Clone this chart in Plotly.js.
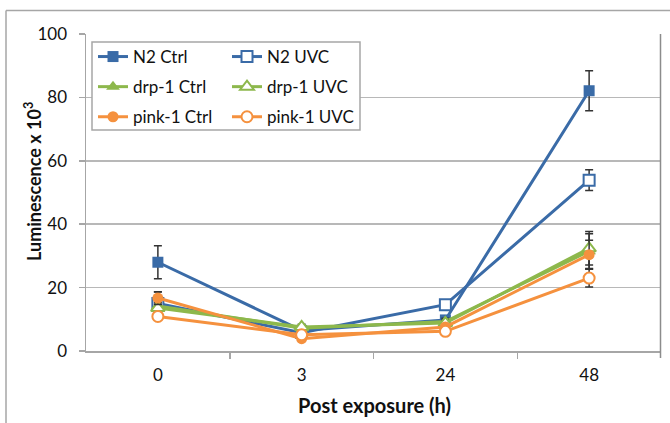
<!DOCTYPE html>
<html>
<head>
<meta charset="utf-8">
<script src="https://cdn.plot.ly/plotly-3.0.1.min.js"></script>
<style>
html,body{margin:0;padding:0;background:#fff;}
#chart{width:670px;height:423px;}
</style>
</head>
<body>
<div id="chart"></div>
<script>
// ---- data ----
var categories = ['0', '3', '24', '48'];
var seriesNames = ['N2 Ctrl', 'N2 UVC', 'drp-1 Ctrl', 'drp-1 UVC', 'pink-1 Ctrl', 'pink-1 UVC'];
var n2Ctrl = [28.0, 6.5, 9.8, 82.1];
var n2CtrlErr = [5.2, 0.8, 1.0, 6.3];
var n2Uvc = [15.0, 5.8, 14.6, 53.9];
var n2UvcErr = [3.6, 0.8, 1.2, 3.3];
var drpCtrl = [14.2, 7.2, 9.3, 31.5];
var drpCtrlErr = [1.2, 0.8, 1.0, 5.5];
var drpUvc = [13.6, 7.6, 8.8, 32.4];
var drpUvcErr = [1.2, 0.8, 1.0, 5.3];
var pinkCtrl = [16.7, 3.9, 7.6, 30.4];
var pinkCtrlErr = [2.0, 0.6, 0.8, 4.5];
var pinkUvc = [10.9, 5.1, 6.2, 23.0];
var pinkUvcErr = [1.0, 0.6, 0.8, 2.8];
var yTicks = [0, 20, 40, 60, 80, 100];

// ---- style ----
var BLUE = '#3A6BA7', GREEN = '#8DB84C', ORANGE = '#F5913E';
var FONT = 'Lato, "Open Sans", sans-serif';
var xIdx = categories.map(function (c, i) { return i; });

// plot area in pixels
var W = 670, H = 423, L = 86, R = 661, T = 34, B = 351;
function px(x) { return (x - L) / (R - L); }
function py(y) { return (B - y) / (B - T); }

function mk(name, y, err, color, symbol, open, legend) {
  return {
    type: 'scatter', mode: 'lines+markers', name: name,
    x: xIdx, y: y, legend: legend, legendgroup: name,
    line: {color: color, width: 3},
    marker: {symbol: symbol, size: symbol === 'triangle-up' ? 12 : 11,
      color: open ? '#ffffff' : color,
      line: {color: color, width: open ? 2 : 0}},
    error_y: {type: 'data', array: err, visible: true, color: '#333333', thickness: 1.5, width: 4},
    cliponaxis: false
  };
}

var data = [
  mk(seriesNames[0], n2Ctrl, n2CtrlErr, BLUE, 'square', false, 'legend'),
  mk(seriesNames[1], n2Uvc, n2UvcErr, BLUE, 'square', true, 'legend2'),
  mk(seriesNames[2], drpCtrl, drpCtrlErr, GREEN, 'triangle-up', false, 'legend'),
  mk(seriesNames[3], drpUvc, drpUvcErr, GREEN, 'triangle-up', true, 'legend2'),
  mk(seriesNames[4], pinkCtrl, pinkCtrlErr, ORANGE, 'circle', false, 'legend'),
  mk(seriesNames[5], pinkUvc, pinkUvcErr, ORANGE, 'circle', true, 'legend2')
];

var legendCommon = {
  xanchor: 'left', yanchor: 'top', bgcolor: 'rgba(0,0,0,0)', borderwidth: 0,
  font: {family: FONT, size: 17, color: '#111'}, itemwidth: 30,
  traceorder: 'grouped', tracegroupgap: 5
};

var layout = {
  width: W, height: H,
  margin: {l: L, r: W - R, t: T, b: H - B, pad: 0},
  paper_bgcolor: '#ffffff', plot_bgcolor: '#ffffff',
  showlegend: true,
  legend: Object.assign({x: px(93), y: py(39)}, legendCommon),
  legend2: Object.assign({x: px(227), y: py(39)}, legendCommon),
  xaxis: {
    range: [-0.5, 3.5], tickmode: 'array', tickvals: xIdx, ticktext: categories,
    ticks: '', showgrid: false, zeroline: false,
    showline: true, linecolor: '#A6A6A6', linewidth: 1.5,
    tickfont: {family: FONT, size: 17, color: '#111'},
    ticklabelstandoff: 8,
    minor: {tickmode: 'array', tickvals: [0.5, 1.5, 2.5], ticks: 'outside', ticklen: 6, tickcolor: '#A6A6A6', tickwidth: 1.5, showgrid: false}
  },
  yaxis: {
    range: [0, 100], tickmode: 'array', tickvals: yTicks,
    ticks: 'outside', ticklen: 6, tickcolor: '#A6A6A6', tickwidth: 1.5,
    showgrid: true, gridcolor: '#B8B8B8', gridwidth: 1.5, zeroline: false,
    showline: true, linecolor: '#A6A6A6', linewidth: 1.5,
    tickfont: {family: FONT, size: 17, color: '#111'},
    ticklabelstandoff: 8
  },
  shapes: [
    // outer chart border
    {type: 'line', xref: 'paper', yref: 'paper', x0: px(6), x1: px(6), y0: py(10.5), y1: py(430), line: {color: '#A6A6A6', width: 1.5}},
    {type: 'line', xref: 'paper', yref: 'paper', x0: px(6), x1: px(680), y0: py(10.5), y1: py(10.5), line: {color: '#A6A6A6', width: 1.5}},
    // plot area right edge
    {type: 'line', xref: 'paper', yref: 'paper', x0: px(660.5), x1: px(660.5), y0: py(34), y1: py(358), line: {color: '#8C8C8C', width: 1.5}},
    // legend box
    {type: 'rect', xref: 'paper', yref: 'paper', x0: px(92), x1: px(360), y0: py(42), y1: py(130), layer: 'above',
      fillcolor: '#ffffff', line: {color: '#A6A6A6', width: 1.5}}
  ],
  annotations: [
    {xref: 'paper', yref: 'paper', x: px(374), y: py(405), xanchor: 'center', yanchor: 'middle', showarrow: false,
      text: '<b>Post exposure (h)</b>', font: {family: FONT, size: 20, color: '#111'}},
    {xref: 'paper', yref: 'paper', x: px(33), y: py(182), xanchor: 'center', yanchor: 'middle', showarrow: false, textangle: -90,
      text: '<b>Luminescence x 10<sup>3</sup></b>', font: {family: FONT, size: 18, color: '#111'}}
  ]
};

Plotly.newPlot('chart', data, layout, {displayModeBar: false, staticPlot: true});
</script>
</body>
</html>
